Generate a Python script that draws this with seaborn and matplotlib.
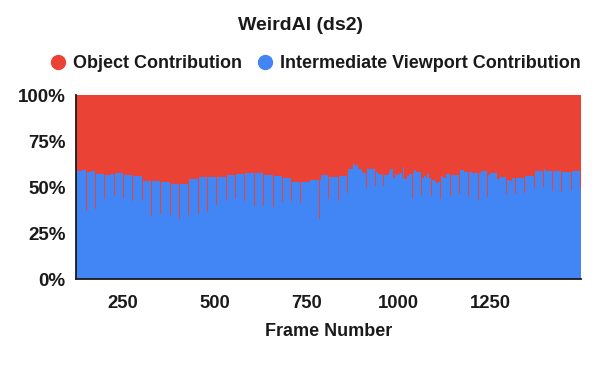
import numpy as np
import matplotlib.pyplot as plt
import seaborn as sns
from matplotlib.lines import Line2D

# start frame of each run of constant share, and the viewport share (%) over that run
run_start = [
    123, 125.5, 138, 150, 152.5, 164, 175, 177.5, 199, 201.5,
    217, 226.5, 229, 251, 253.5, 276, 278.5, 301.5, 304, 327,
    329.5, 351, 353.5, 377.5, 380, 403, 405.5, 427, 429.5, 454.5,
    457, 479, 481.5, 504, 506.5, 530, 532.5, 556, 558.5, 581,
    583.5, 606.5, 609, 632.5, 635, 657.5, 660, 683, 685.5, 707,
    709.5, 732, 734.5, 758, 760.5, 783, 785.5, 790, 808, 810.5,
    835, 837.5, 860, 862.5, 877, 882, 886, 889, 900, 911,
    913.5, 935, 937.5, 945, 953, 959, 961.5, 975, 978, 985,
    991, 994, 998, 1002, 1005, 1009, 1013, 1016, 1022, 1029,
    1035.5, 1038, 1043, 1047, 1061.5, 1064, 1070, 1074, 1078, 1082,
    1087.5, 1090, 1100, 1103, 1107, 1112.5, 1115, 1121, 1129, 1134,
    1139.5, 1142, 1165, 1167.5, 1179, 1189, 1191.5, 1201, 1215, 1217.5,
    1223, 1241, 1243.5, 1248, 1266.5, 1269, 1277, 1291.5, 1294, 1304,
    1308, 1317, 1319.5, 1342, 1344.5, 1369, 1371.5, 1394, 1396.5, 1399,
    1418, 1420.5, 1443, 1445.5, 1468, 1470.5, 1492.5,
]
viewport_pct = [
    70.0, 59.0, 59.6, 37.1, 58.5, 58.9, 38.0, 57.4, 43.6, 56.7,
    57.4, 45.5, 57.8, 44.4, 56.7, 42.6, 56.3, 43.3, 53.4, 34.6,
    53.4, 35.7, 53.1, 34.9, 52.0, 32.8, 52.0, 34.9, 54.5, 35.7,
    55.6, 36.4, 55.6, 40.4, 55.6, 43.3, 56.7, 44.4, 57.4, 42.6,
    57.8, 40.0, 57.8, 39.7, 56.7, 39.3, 56.3, 42.2, 55.2, 42.6,
    53.1, 41.5, 53.1, 38.2, 54.1, 32.8, 54.1, 56.7, 43.6, 55.6,
    42.6, 56.3, 46.9, 59.9, 62.5, 61.4, 62.5, 59.9, 57.8, 49.8,
    59.9, 50.9, 58.5, 57.4, 56.7, 50.9, 56.7, 58.5, 59.9, 55.2,
    57.4, 56.7, 57.8, 56.7, 57.8, 55.0, 61.1, 54.5, 55.9, 57.4,
    44.4, 57.8, 59.2, 58.5, 45.8, 55.2, 56.3, 55.2, 57.4, 55.2,
    45.5, 54.1, 53.1, 52.4, 53.1, 43.6, 56.3, 54.9, 57.1, 57.4,
    45.5, 56.7, 46.2, 59.6, 58.2, 44.8, 58.5, 57.8, 43.3, 57.8,
    58.9, 44.8, 56.7, 57.8, 46.5, 54.5, 55.6, 46.5, 54.1, 53.4,
    54.9, 46.2, 55.2, 46.9, 56.3, 49.8, 58.9, 50.2, 60.0, 58.9,
    48.0, 58.9, 47.6, 58.5, 48.7, 58.9, 49.1,
]
last_frame = 1496

series_names = ['Object Contribution', 'Intermediate Viewport Contribution']
x_ticks = [250, 500, 750, 1000, 1250]
y_ticks = [0, 25, 50, 75, 100]

RED = '#EA4335'
BLUE = '#4285F4'
TXT = '#1a1a1a'

sns.set_theme(style='white')
plt.rcParams['font.family'] = ['Liberation Sans', 'DejaVu Sans']

fig = plt.figure(figsize=(6, 3.71), dpi=100)
ax = fig.add_axes([0.1267, 0.2472, 0.8416, 0.4959])

edges = np.append(run_start, last_frame)
vp = np.append(viewport_pct, viewport_pct[-1])
obj_top = np.full_like(vp, 100.0)

ax.fill_between(edges, 0, vp, step='post', color=BLUE, lw=0)
ax.fill_between(edges, vp, obj_top, step='post', color=RED, lw=0)

ax.set_xlim(run_start[0], last_frame)
ax.set_ylim(0, 100)
ax.set_xticks(x_ticks)
ax.set_yticks(y_ticks)
ax.set_yticklabels([f'{v}%' for v in y_ticks])
ax.tick_params(axis='x', direction='inout', length=4, width=1, pad=9,
               labelsize=13.3, colors=TXT)
ax.tick_params(axis='y', direction='out', length=3, width=1, pad=4.5,
               labelsize=13.5, colors=TXT)
for lab in ax.get_xticklabels() + ax.get_yticklabels():
    lab.set_fontweight('bold')

sns.despine(ax=ax)
ax.spines['left'].set_color(TXT)
ax.spines['bottom'].set_color(TXT)
ax.spines['left'].set_linewidth(1.3)
ax.spines['bottom'].set_linewidth(1.3)
ax.axhline(100, color='#cccccc', lw=1, zorder=0.5)

ax.set_xlabel('Frame Number', fontsize=13, fontweight='bold', color=TXT, labelpad=8)

fig.text(0.5, 0.93, 'WeirdAI (ds2)', ha='center', va='center',
         fontsize=14, fontweight='bold', color=TXT)

handles = [
    Line2D([], [], marker='o', ls='', markersize=10, color=RED),
    Line2D([], [], marker='o', ls='', markersize=10, color=BLUE),
]
fig.legend(handles, series_names, loc='center', bbox_to_anchor=(0.526, 0.828),
           ncol=2, frameon=False, handlelength=0.8, handletextpad=0.45,
           columnspacing=0.85, prop={'size': 13, 'weight': 'bold'},
           labelcolor=TXT)

fig.savefig('out.png', dpi=100)
